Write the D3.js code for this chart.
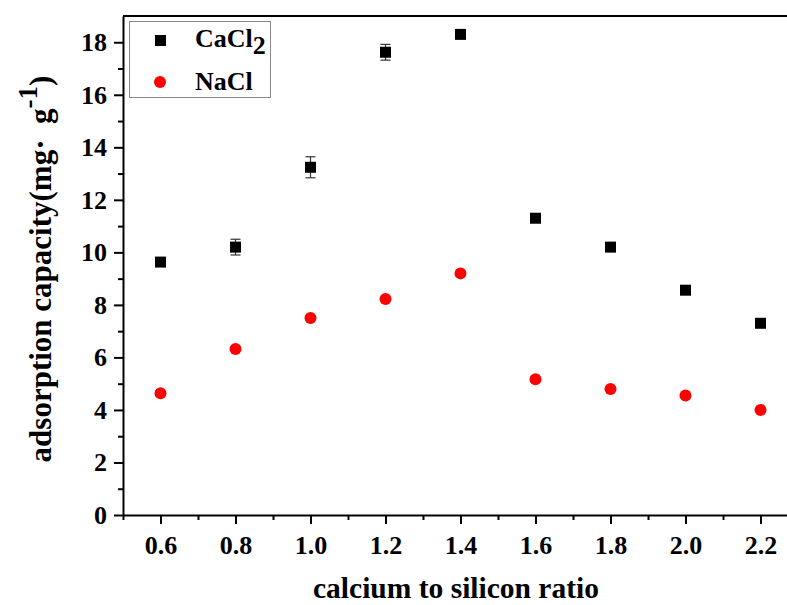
<!DOCTYPE html>
<html>
<head>
<meta charset="utf-8">
<script src="https://cdn.jsdelivr.net/npm/d3@7"></script>
<style>
  body { margin: 0; background: #fff; }
  svg text { font-family: "Liberation Serif", "DejaVu Serif", serif; font-weight: bold; fill: #000; }
</style>
</head>
<body>
<svg width="787" height="605"></svg>
<script>
var ratios = [0.6, 0.8, 1.0, 1.2, 1.4, 1.6, 1.8, 2.0, 2.2];
var cacl2 = [9.63, 10.2, 13.24, 17.62, 18.3, 11.3, 10.2, 8.56, 7.3];
var cacl2Err = [0, 0.3, 0.4, 0.3, 0, 0, 0, 0, 0];
var nacl = [4.64, 6.32, 7.5, 8.22, 9.2, 5.17, 4.8, 4.55, 4.0];
var xTicks = [0.6, 0.8, 1.0, 1.2, 1.4, 1.6, 1.8, 2.0, 2.2];
var yTicks = [0, 2, 4, 6, 8, 10, 12, 14, 16, 18];

var svg = d3.select("svg"),
    pLeft = 123, pRight = 798, pTop = 16, pBottom = 515;

var x = d3.scaleLinear().domain([0.5, 2.3]).range([pLeft, pRight]);
var y = d3.scaleLinear().domain([0, 19]).range([pBottom, pTop]);

// frame (top + right, right side falls off the canvas)
svg.append("path")
    .attr("d", "M" + pLeft + "," + pTop + "H" + pRight + "V" + pBottom)
    .attr("fill", "none").attr("stroke", "#000").attr("stroke-width", 2);

var xAxis = svg.append("g")
    .attr("transform", "translate(0," + pBottom + ")")
    .call(d3.axisBottom(x).tickValues(xTicks).tickFormat(d3.format(".1f"))
        .tickSizeInner(9).tickSizeOuter(0).tickPadding(12));
xAxis.append("g").call(d3.axisBottom(x).tickValues(d3.range(0.5, 2.35, 0.2))
    .tickSizeInner(5).tickSizeOuter(0).tickFormat(""))
    .select(".domain").remove();

var yAxis = svg.append("g")
    .attr("transform", "translate(" + pLeft + ",0)")
    .call(d3.axisLeft(y).tickValues(yTicks).tickSizeInner(9).tickSizeOuter(0).tickPadding(7));
yAxis.append("g").call(d3.axisLeft(y).tickValues(d3.range(1, 19, 2))
    .tickSizeInner(5).tickSizeOuter(0).tickFormat(""))
    .select(".domain").remove();

svg.selectAll(".domain").attr("stroke-width", 2);
svg.selectAll(".tick line").attr("stroke-width", 2);
svg.selectAll(".tick text").style("font-size", "26px").attr("font-family", null);

// axis titles
svg.append("text")
    .attr("x", 456).attr("y", 598)
    .attr("text-anchor", "middle")
    .style("font-size", "29.5px")
    .text("calcium to silicon ratio");

var yt = svg.append("text")
    .attr("transform", "translate(51,269) rotate(-90)")
    .attr("text-anchor", "middle")
    .style("font-size", "31px")
    .style("white-space", "pre");
yt.append("tspan").text("adsorption capacity(mg·  g");
yt.append("tspan").attr("dy", -14).style("font-size", "27px").text("-1");
yt.append("tspan").attr("dy", 14).text(")");

// error bars
var errs = ratios.map(function(r, i) { return {x: r, y: cacl2[i], e: cacl2Err[i]}; })
    .filter(function(d) { return d.e > 0; });
var eb = svg.append("g").attr("stroke", "#333").attr("stroke-width", 1.2);
errs.forEach(function(d) {
    eb.append("line").attr("x1", x(d.x)).attr("x2", x(d.x))
        .attr("y1", y(d.y - d.e)).attr("y2", y(d.y + d.e));
    [d.y - d.e, d.y + d.e].forEach(function(v) {
        eb.append("line").attr("x1", x(d.x) - 5).attr("x2", x(d.x) + 5)
            .attr("y1", y(v)).attr("y2", y(v));
    });
});

// points
svg.append("g").selectAll("rect")
    .data(ratios)
    .enter().append("rect")
    .attr("x", function(d) { return x(d) - 5.5; })
    .attr("y", function(d, i) { return y(cacl2[i]) - 5.5; })
    .attr("width", 11).attr("height", 11)
    .attr("fill", "#000");

svg.append("g").selectAll("circle")
    .data(ratios)
    .enter().append("circle")
    .attr("cx", function(d) { return x(d); })
    .attr("cy", function(d, i) { return y(nacl[i]); })
    .attr("r", 6)
    .attr("fill", "#ff0000");

// legend
var lg = svg.append("g");
lg.append("rect").attr("x", 129.5).attr("y", 21.5).attr("width", 141).attr("height", 76)
    .attr("fill", "#fff").attr("stroke", "#888").attr("stroke-width", 1);
lg.append("rect").attr("x", 155).attr("y", 35).attr("width", 11).attr("height", 11).attr("fill", "#000");
lg.append("circle").attr("cx", 160).attr("cy", 82).attr("r", 6).attr("fill", "#ff0000");
var t1 = lg.append("text").attr("x", 195).attr("y", 47).style("font-size", "26px");
t1.append("tspan").text("CaCl");
t1.append("tspan").attr("dy", 7).text("2");
lg.append("text").attr("x", 195).attr("y", 90).style("font-size", "26px").text("NaCl");
</script>
</body>
</html>
